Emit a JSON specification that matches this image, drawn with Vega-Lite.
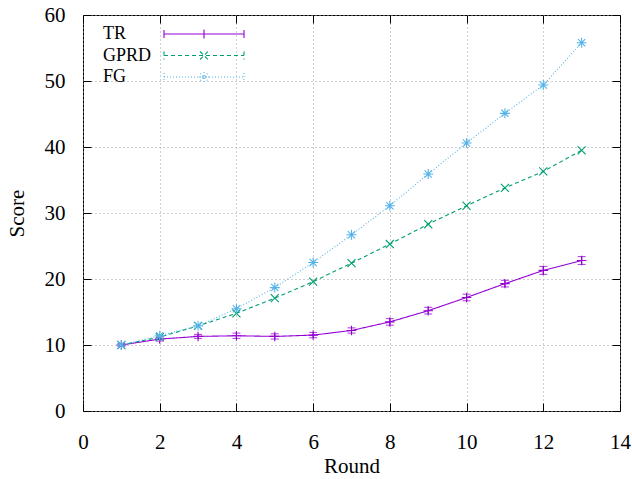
{
  "$schema": "https://vega.github.io/schema/vega-lite/v6.json",
  "width": 537,
  "height": 396,
  "autosize": {"type": "none"},
  "padding": {"left": 83, "top": 15, "right": 12, "bottom": 68},
  "background": "white",
  "config": {
    "font": "Liberation Serif",
    "view": {"stroke": "black", "strokeWidth": 1},
    "axis": {
      "labelFont": "Liberation Serif",
      "labelFontSize": 21,
      "labelColor": "black",
      "titleFont": "Liberation Serif",
      "titleFontSize": 21,
      "titleFontWeight": "normal",
      "titleColor": "black",
      "tickColor": "black",
      "tickSize": -8,
      "tickWidth": 1,
      "domain": false,
      "gridColor": "#a0a0a0",
      "gridDash": [1, 3],
      "gridWidth": 1,
      "gridOpacity": 1,
      "labelFlush": false
    },
    "legend": {
      "orient": "none",
      "legendX": 110,
      "legendY": 8,
      "padding": 0,
      "title": null,
      "labelFont": "Liberation Serif",
      "labelFontSize": 18,
      "labelColor": "black",
      "labelOffset": -112,
      "labelAlign": "left",
      "symbolSize": 400,
      "symbolStrokeWidth": 1.1,
      "rowPadding": 1.5
    }
  },
  "data": {
    "values": [
      {"round": 1, "series": "TR", "score": 10.0, "lo": 9.8, "hi": 10.2},
      {"round": 2, "series": "TR", "score": 10.9, "lo": 10.6, "hi": 11.2},
      {"round": 3, "series": "TR", "score": 11.3, "lo": 11.0, "hi": 11.6},
      {"round": 4, "series": "TR", "score": 11.4, "lo": 11.0, "hi": 11.8},
      {"round": 5, "series": "TR", "score": 11.3, "lo": 10.9, "hi": 11.7},
      {"round": 6, "series": "TR", "score": 11.5, "lo": 11.1, "hi": 11.9},
      {"round": 7, "series": "TR", "score": 12.2, "lo": 11.8, "hi": 12.6},
      {"round": 8, "series": "TR", "score": 13.5, "lo": 13.0, "hi": 14.0},
      {"round": 9, "series": "TR", "score": 15.2, "lo": 14.7, "hi": 15.7},
      {"round": 10, "series": "TR", "score": 17.2, "lo": 16.7, "hi": 17.7},
      {"round": 11, "series": "TR", "score": 19.3, "lo": 18.8, "hi": 19.8},
      {"round": 12, "series": "TR", "score": 21.3, "lo": 20.7, "hi": 21.9},
      {"round": 13, "series": "TR", "score": 22.8, "lo": 22.2, "hi": 23.4},
      {"round": 1, "series": "GPRD", "score": 10.0},
      {"round": 2, "series": "GPRD", "score": 11.2},
      {"round": 3, "series": "GPRD", "score": 12.9},
      {"round": 4, "series": "GPRD", "score": 14.8},
      {"round": 5, "series": "GPRD", "score": 17.1},
      {"round": 6, "series": "GPRD", "score": 19.6},
      {"round": 7, "series": "GPRD", "score": 22.4},
      {"round": 8, "series": "GPRD", "score": 25.3},
      {"round": 9, "series": "GPRD", "score": 28.3},
      {"round": 10, "series": "GPRD", "score": 31.1},
      {"round": 11, "series": "GPRD", "score": 33.8},
      {"round": 12, "series": "GPRD", "score": 36.3},
      {"round": 13, "series": "GPRD", "score": 39.5},
      {"round": 1, "series": "FG", "score": 10.0},
      {"round": 2, "series": "FG", "score": 11.4},
      {"round": 3, "series": "FG", "score": 12.9},
      {"round": 4, "series": "FG", "score": 15.5},
      {"round": 5, "series": "FG", "score": 18.7},
      {"round": 6, "series": "FG", "score": 22.5},
      {"round": 7, "series": "FG", "score": 26.7},
      {"round": 8, "series": "FG", "score": 31.1},
      {"round": 9, "series": "FG", "score": 35.9},
      {"round": 10, "series": "FG", "score": 40.6},
      {"round": 11, "series": "FG", "score": 45.1},
      {"round": 12, "series": "FG", "score": 49.4},
      {"round": 13, "series": "FG", "score": 55.8}
    ]
  },
  "layer": [
    {
      "mark": {"type": "line", "strokeWidth": 1.1},
      "encoding": {
        "x": {"field": "round", "type": "quantitative", "scale": {"domain": [0, 14], "nice": false}, "axis": {"title": "Round", "values": [0, 2, 4, 6, 8, 10, 12, 14], "labelPadding": 28, "titlePadding": 3, "labelFont": "Liberation Serif", "titleFont": "Liberation Serif"}},
        "y": {"field": "score", "type": "quantitative", "scale": {"domain": [0, 60], "nice": false}, "axis": {"title": "Score", "values": [0, 10, 20, 30, 40, 50, 60], "labelPadding": 26, "titlePadding": 17, "labelFont": "Liberation Serif", "titleFont": "Liberation Serif"}},
        "color": {
          "field": "series", "type": "nominal",
          "scale": {"domain": ["TR", "GPRD", "FG"], "range": ["#9400d3", "#009e73", "#56b4e9"]},
          "legend": {
            "encode": {
              "symbols": {
                "update": {
                  "fill": {"value": "transparent"},
                  "shape": [
                    {"test": "datum.value === 'TR'", "value": "M-4,0L4,0M-4,-0.4L-4,0.4M4,-0.4L4,0.4M-0.45,0L0.45,0M0,-0.45L0,0.45"},
                    {"test": "datum.value === 'GPRD'", "value": "M-4,0L4,0M-4,-0.4L-4,0.4M4,-0.4L4,0.4M-0.4,-0.4L0.4,0.4M-0.4,0.4L0.4,-0.4"},
                    {"value": "M-4,0L4,0M-4,-0.4L-4,0.4M4,-0.4L4,0.4M-0.5,0L0.5,0M0,-0.5L0,0.5M-0.36,-0.36L0.36,0.36M-0.36,0.36L0.36,-0.36"}
                  ]
                }
              }
            }
          }
        },
        "strokeDash": {
          "field": "series", "type": "nominal",
          "scale": {"domain": ["TR", "GPRD", "FG"], "range": [[1, 0], [4, 3], [1, 2]]}
        }
      }
    },
    {
      "transform": [{"filter": "datum.series === 'TR'"}],
      "mark": {"type": "errorbar", "ticks": {"size": 8}, "thickness": 1.1, "color": "#9400d3"},
      "encoding": {
        "x": {"field": "round", "type": "quantitative", "axis": null},
        "y": {"field": "lo", "type": "quantitative", "axis": null},
        "y2": {"field": "hi"}
      }
    },
    {
      "transform": [{"filter": "datum.series === 'TR'"}],
      "mark": {"type": "point", "filled": false, "size": 90, "strokeWidth": 1.1, "opacity": 1, "color": "#9400d3", "shape": "M-1,0L1,0M0,-1L0,1"},
      "encoding": {
        "x": {"field": "round", "type": "quantitative", "axis": {"orient": "top", "labels": false, "grid": false, "title": null, "values": [0, 2, 4, 6, 8, 10, 12, 14]}},
        "y": {"field": "score", "type": "quantitative", "axis": {"orient": "right", "labels": false, "grid": false, "title": null, "values": [0, 10, 20, 30, 40, 50, 60]}}
      }
    },
    {
      "transform": [{"filter": "datum.series === 'GPRD'"}],
      "mark": {"type": "point", "filled": false, "size": 90, "strokeWidth": 1.1, "opacity": 1, "color": "#009e73", "shape": "M-0.85,-0.85L0.85,0.85M-0.85,0.85L0.85,-0.85"},
      "encoding": {
        "x": {"field": "round", "type": "quantitative", "axis": null},
        "y": {"field": "score", "type": "quantitative", "axis": null}
      }
    },
    {
      "transform": [{"filter": "datum.series === 'FG'"}],
      "mark": {"type": "point", "filled": false, "size": 100, "strokeWidth": 1.1, "opacity": 1, "color": "#56b4e9", "shape": "M-1,0L1,0M0,-1L0,1M-0.72,-0.72L0.72,0.72M-0.72,0.72L0.72,-0.72"},
      "encoding": {
        "x": {"field": "round", "type": "quantitative", "axis": null},
        "y": {"field": "score", "type": "quantitative", "axis": null}
      }
    }
  ],
  "resolve": {"axis": {"x": "independent", "y": "independent"}}
}
